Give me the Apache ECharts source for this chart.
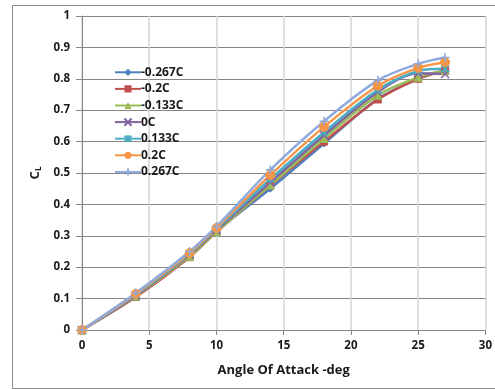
<!DOCTYPE html>
<html>
<head>
<meta charset="utf-8">
<script src="https://cdn.jsdelivr.net/npm/echarts@6/dist/echarts.min.js"></script>
<style>
html,body{margin:0;padding:0;background:#fff;}
#chart{width:495px;height:390px;}
</style>
</head>
<body>
<div id="chart"></div>
<script>
// angle of attack (deg)
var angles = [0, 4, 8, 10, 14, 18, 22, 25, 27];
var names = ['-0.267C', '-0.2C', '-0.133C', '0C', '0.133C', '0.2C', '0.267C'];
// CL values per position
var cl_m267 = [0, 0.107, 0.235, 0.315, 0.450, 0.594, 0.736, 0.800, 0.826];
var cl_m200 = [0, 0.105, 0.232, 0.312, 0.460, 0.600, 0.734, 0.800, 0.826];
var cl_m133 = [0, 0.108, 0.235, 0.313, 0.462, 0.610, 0.748, 0.805, 0.827];
var cl_0 = [0, 0.110, 0.240, 0.318, 0.470, 0.620, 0.758, 0.818, 0.815];
var cl_p133 = [0, 0.112, 0.243, 0.322, 0.480, 0.630, 0.765, 0.825, 0.832];
var cl_p200 = [0, 0.115, 0.245, 0.325, 0.493, 0.647, 0.778, 0.835, 0.853];
var cl_p267 = [0, 0.118, 0.250, 0.330, 0.510, 0.665, 0.795, 0.848, 0.868];
var xTicks = [0, 5, 10, 15, 20, 25, 30];
var yTicks = [0, 0.1, 0.2, 0.3, 0.4, 0.5, 0.6, 0.7, 0.8, 0.9, 1];

var allData = [cl_m267, cl_m200, cl_m133, cl_0, cl_p133, cl_p200, cl_p267];
var colors = ['#4F81BD', '#C0504D', '#9BBB59', '#8064A2', '#4BACC6', '#F79646', '#8FAADC'];
var xPath = 'path://M0,0 L10,10 M10,0 L0,10';
var starPath = 'path://M0,0 L10,10 M10,0 L0,10 M5,-1 L5,11';
var plusPath = 'path://M5,0 L5,10 M0,5 L10,5';
var symbols = ['diamond', 'rect', 'triangle', xPath, starPath, 'circle', plusPath];
var sizes = [7, 7, 8, 8, 8, 9, 9];

function pairs(arr) {
    var out = [];
    for (var i = 0; i < angles.length; i++) {
        out.push([angles[i], arr[i]]);
    }
    return out;
}

var series = [];
for (var k = 0; k < names.length; k++) {
    var lineMarker = symbols[k].indexOf('path://') === 0;
    series.push({
        name: names[k],
        type: 'line',
        smooth: 0.3,
        symbol: symbols[k],
        symbolSize: sizes[k],
        showAllSymbol: true,
        lineStyle: { color: colors[k], width: 2.5 },
        itemStyle: lineMarker ? {
            color: 'transparent',
            borderColor: colors[k],
            borderWidth: 1.5
        } : { color: colors[k], borderColor: colors[k] },
        data: pairs(allData[k])
    });
}

var labelFont = {
    color: '#1a1a1a',
    fontWeight: 'bold',
    fontSize: 11.5,
    fontFamily: 'Open Sans'
};

var option = {
    backgroundColor: '#fff',
    animation: false,
    color: colors,
    graphic: [{
        type: 'rect',
        shape: { x: 12.5, y: 5.5, width: 500, height: 383 },
        style: { fill: 'none', stroke: '#8c8c8c', lineWidth: 1 },
        silent: true
    }],
    grid: {
        left: 82,
        right: 6,
        top: 16,
        bottom: 60
    },
    legend: {
        orient: 'vertical',
        left: 114,
        top: 64,
        padding: 0,
        itemWidth: 26,
        itemHeight: 9,
        itemGap: 0,
        textStyle: {
            color: '#1a1a1a',
            fontWeight: 'bold',
            fontSize: 12,
            lineHeight: 16.6,
            height: 16.6,
            fontFamily: 'Open Sans',
            padding: [0, 0, 0, -5]
        },
        data: names
    },
    xAxis: {
        type: 'value',
        min: xTicks[0],
        max: xTicks[xTicks.length - 1],
        interval: 5,
        name: 'Angle Of Attack -deg',
        nameLocation: 'middle',
        nameGap: 34,
        nameTextStyle: {
            color: '#1a1a1a',
            fontWeight: 'bold',
            fontSize: 13,
            fontFamily: 'Open Sans'
        },
        axisLine: { show: true, lineStyle: { color: '#868686' } },
        axisTick: { show: true, length: 5, lineStyle: { color: '#868686' } },
        axisLabel: Object.assign({ margin: 10 }, labelFont),
        splitLine: { show: true, lineStyle: { color: '#d4d4d4', width: 1.5 } }
    },
    yAxis: {
        type: 'value',
        min: yTicks[0],
        max: yTicks[yTicks.length - 1],
        interval: 0.1,
        name: '{a|C}{b|L}',
        nameLocation: 'middle',
        nameRotate: 90,
        nameGap: 38,
        nameTextStyle: {
            rich: {
                a: { fontSize: 13, fontWeight: 'bold', color: '#1a1a1a', fontFamily: 'Open Sans' },
                b: { fontSize: 8, fontWeight: 'bold', color: '#1a1a1a', fontFamily: 'Open Sans', verticalAlign: 'bottom', padding: [6, 0, 0, 0] }
            }
        },
        axisLine: { show: true, lineStyle: { color: '#868686' } },
        axisTick: { show: true, length: 6, lineStyle: { color: '#868686' } },
        axisLabel: Object.assign({
            margin: 12,
            formatter: function (v) { return String(Math.round(v * 10) / 10); }
        }, labelFont),
        splitLine: { show: true, lineStyle: { color: '#868686', width: 1 } }
    },
    series: series
};

var myChart = echarts.init(document.getElementById('chart'));
myChart.setOption(option);
</script>
</body>
</html>
